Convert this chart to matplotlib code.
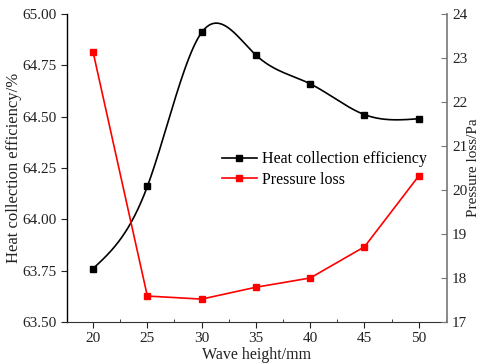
import numpy as np
import matplotlib
matplotlib.use("Agg")
import matplotlib.pyplot as plt
from matplotlib.ticker import MultipleLocator

# data
wave_height = [20, 25, 30, 35, 40, 45, 50]
efficiency = [63.76, 64.16, 64.91, 64.80, 64.66, 64.51, 64.49]
pressure_loss = [23.14, 17.59, 17.52, 17.79, 18.00, 18.71, 20.32]


def natural_spline(x, y, n=300):
    """Natural cubic spline through the points, used only to draw the smooth curve."""
    x = np.asarray(x, float)
    y = np.asarray(y, float)
    m = len(x)
    h = np.diff(x)
    A = np.zeros((m, m))
    b = np.zeros(m)
    A[0, 0] = A[-1, -1] = 1
    for i in range(1, m - 1):
        A[i, i - 1] = h[i - 1]
        A[i, i] = 2 * (h[i - 1] + h[i])
        A[i, i + 1] = h[i]
        b[i] = 3 * ((y[i + 1] - y[i]) / h[i] - (y[i] - y[i - 1]) / h[i - 1])
    c = np.linalg.solve(A, b)
    xs = np.linspace(x[0], x[-1], n)
    idx = np.clip(np.searchsorted(x, xs) - 1, 0, m - 2)
    dx = xs - x[idx]
    hi = h[idx]
    bb = (y[idx + 1] - y[idx]) / hi - hi * (2 * c[idx] + c[idx + 1]) / 3
    dd = (c[idx + 1] - c[idx]) / (3 * hi)
    ys = y[idx] + bb * dx + c[idx] * dx ** 2 + dd * dx ** 3
    return xs, ys


plt.rcParams['font.family'] = ['Liberation Serif', 'DejaVu Serif']
plt.rcParams['font.size'] = 11

fig = plt.figure(figsize=(4.83, 3.64), dpi=100)
ax = fig.add_axes([0.1387, 0.1154, 0.7868, 0.8461])
ax2 = ax.twinx()

xs, ys = natural_spline(wave_height, efficiency)
ax.plot(xs, ys, color='black', lw=1.2, zorder=3)
ax.plot(wave_height, efficiency, 's', color='black', ms=5, zorder=4)
ax2.plot(wave_height, pressure_loss, '-s', color='#ff0000', lw=1.2, ms=5)

ax.set_xlim(17.6, 52.6)
ax.set_ylim(63.5, 65.0)
ax2.set_ylim(17, 24)
ax.set_xticks(wave_height)
ax.xaxis.set_minor_locator(MultipleLocator(2.5))
ax.set_yticks(np.arange(63.5, 65.01, 0.25))
ax.yaxis.set_major_formatter(plt.FormatStrFormatter('%.2f'))
ax2.set_yticks(range(17, 25))

for a in (ax, ax2):
    a.spines['top'].set_visible(False)
ax.spines['right'].set_visible(False)
ax2.spines['left'].set_visible(False)
ax2.spines['bottom'].set_visible(False)
ax2.spines['right'].set_color('#777777')
ax2.spines['right'].set_linewidth(1.2)
ax.spines['left'].set_linewidth(1.0)
ax.spines['bottom'].set_color('#333333')

ax.tick_params(axis='both', which='major', direction='out', length=4, colors='#222222', labelsize=11)
ax.tick_params(axis='x', which='minor', direction='in', length=2.5, color='#222222')
ax2.tick_params(axis='y', direction='in', length=4, color='#777777', labelcolor='#222222', labelsize=11)

ax.set_xlabel('Wave height/mm', fontsize=11.5, color='#222222', labelpad=1)
ax.set_ylabel('Heat collection efficiency/%', fontsize=12, color='#222222', labelpad=0)
ax2.set_ylabel('Pressure loss/Pa', fontsize=11, color='#222222', labelpad=0)

ax.plot([], [], '-s', color='black', lw=1.2, ms=5, label='Heat collection efficiency')
ax.plot([], [], '-s', color='#ff0000', lw=1.2, ms=5, label='Pressure loss')
ax.legend(loc='upper left', bbox_to_anchor=(0.39, 0.575), frameon=False, fontsize=11.5,
          handlelength=2.2, handletextpad=0.3, labelspacing=0.3, borderaxespad=0)

fig.savefig('out.png', dpi=100)
